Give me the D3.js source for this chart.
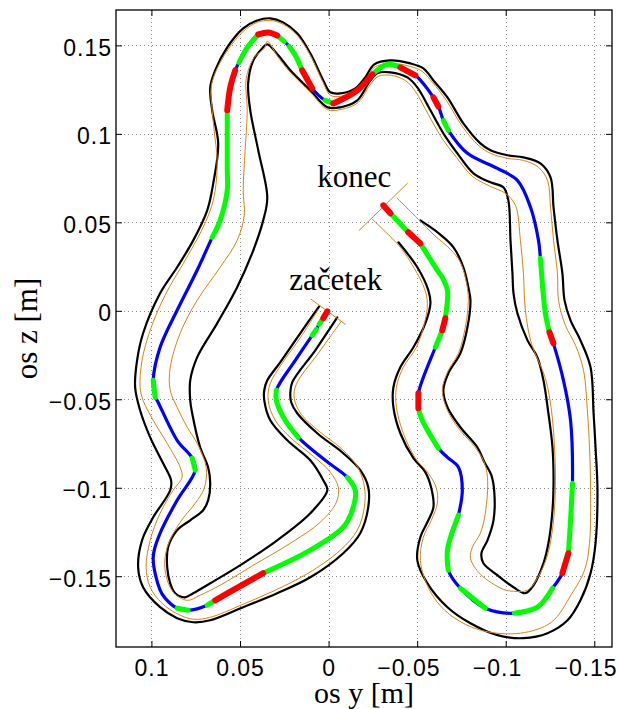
<!DOCTYPE html>
<html><head><meta charset="utf-8">
<script src="https://cdn.jsdelivr.net/npm/d3@7"></script>
<style>html,body{margin:0;padding:0;background:#fff;} svg{display:block;}</style>
</head><body><svg id="c" width="621" height="709"></svg>
<script>
// ---- data (metres): horizontal = os y, vertical = os z ----
const yTicks = [0.1, 0.05, 0, -0.05, -0.1, -0.15];
const yTickLabels = ["0.1", "0.05", "0", "\u22120.05", "\u22120.1", "\u22120.15"];
const zTicks = [0.15, 0.1, 0.05, 0, -0.05, -0.1, -0.15];
const zTickLabels = ["0.15", "0.1", "0.05", "0", "\u22120.05", "\u22120.1", "\u22120.15"];

const centerLine = [
[0.0007,-0.0003],[0.0030,-0.0042],[0.0053,-0.0076],[0.0069,-0.0105],[0.0092,-0.0138],
[0.0188,-0.0280],[0.0295,-0.0449],[0.0295,-0.0506],[0.0245,-0.0619],[0.0171,-0.0715],
[0.0019,-0.0845],[-0.0106,-0.0941],[-0.0151,-0.1014],[-0.0134,-0.1127],[-0.0083,-0.1223],
[0.0103,-0.1353],[0.0369,-0.1483],[0.0499,-0.1556],[0.0640,-0.1636],[0.0685,-0.1664],
[0.0793,-0.1692],[0.0855,-0.1681],[0.0923,-0.1624],[0.0951,-0.1579],[0.0990,-0.1393],
[0.0951,-0.1257],[0.0855,-0.1071],[0.0753,-0.0901],[0.0770,-0.0833],[0.0855,-0.0732],
[0.0968,-0.0506],[0.0979,-0.0489],[0.0990,-0.0393],[0.0951,-0.0206],[0.0855,0.0003],
[0.0742,0.0229],[0.0657,0.0415],[0.0612,0.0511],[0.0572,0.0681],[0.0572,0.0811],
[0.0572,0.1133],[0.0555,0.1263],[0.0527,0.1359],[0.0505,0.1404],[0.0459,0.1489],
[0.0397,0.1562],[0.0341,0.1573],[0.0290,0.1556],[0.0250,0.1523],[0.0222,0.1494],
[0.0188,0.1444],[0.0149,0.1359],[0.0092,0.1257],[0.0019,0.1189],[-0.0027,0.1172],
[-0.0162,0.1246],[-0.0247,0.1336],[-0.0332,0.1393],[-0.0405,0.1376],[-0.0490,0.1331],
[-0.0592,0.1206],[-0.0620,0.1155],[-0.0648,0.1076],[-0.0676,0.1020],[-0.0784,0.0890],
[-0.0953,0.0805],[-0.1066,0.0737],[-0.1140,0.0585],[-0.1185,0.0398],[-0.1196,0.0297],
[-0.1224,-0.0014],[-0.1247,-0.0121],[-0.1269,-0.0184],[-0.1326,-0.0393],[-0.1366,-0.0619],
[-0.1377,-0.0975],[-0.1366,-0.1184],[-0.1354,-0.1370],[-0.1320,-0.1483],[-0.1264,-0.1568],
[-0.1179,-0.1675],[-0.1049,-0.1709],[-0.0885,-0.1681],[-0.0744,-0.1568],[-0.0676,-0.1466],
[-0.0671,-0.1353],[-0.0733,-0.1155],[-0.0755,-0.1014],[-0.0733,-0.0884],[-0.0671,-0.0828],
[-0.0620,-0.0777],[-0.0529,-0.0619],[-0.0507,-0.0551],[-0.0507,-0.0466],[-0.0603,-0.0206],
[-0.0642,-0.0110],[-0.0659,-0.0042],[-0.0671,0.0059],[-0.0671,0.0116],[-0.0642,0.0189],
[-0.0614,0.0229],[-0.0518,0.0381],[-0.0450,0.0444],[-0.0349,0.0551],[-0.0309,0.0596]
];
// state of each piece between consecutive centre points: b = blue, g = green, r = red
const centerState = [
"r","g","b","g","b","b","g","g","g","b",
"b","g","g","g","g","g","r","r","g","b",
"g","b","b","b","b","b","b","g","b","b",
"b","g","b","b","b","b","g","g","g","g",
"r","r","b","g","g","r","r","g","b","g",
"g","r","b","g","r","r","g","g","r","b",
"r","b","g","b","b","b","b","b","b","g",
"g","r","b","b","b","g","g","r","b","g",
"g","b","g","b","g","g","b","b","b","b",
"g","g","r","b","g","r","g","g","g","g",
"g","r","g","r"
];

const wallA = [
[0.0053,0.0025],[0.0160,-0.0127],[0.0273,-0.0291],[0.0346,-0.0393],[0.0363,-0.0449],
[0.0363,-0.0506],[0.0329,-0.0619],[0.0233,-0.0732],[0.0103,-0.0845],[0.0030,-0.0958],
[0.0007,-0.1014],[0.0103,-0.1144],[0.0290,-0.1297],[0.0482,-0.1427],[0.0668,-0.1540],
[0.0764,-0.1596],[0.0810,-0.1619],[0.0866,-0.1596],[0.0894,-0.1540],[0.0911,-0.1449],
[0.0906,-0.1336],[0.0855,-0.1240],[0.0781,-0.1184],[0.0708,-0.1127],[0.0680,-0.1071],
[0.0668,-0.0975],[0.0680,-0.0884],[0.0725,-0.0771],[0.0770,-0.0579],[0.0781,-0.0506],
[0.0781,-0.0393],[0.0742,-0.0263],[0.0629,-0.0071],[0.0516,0.0133],[0.0425,0.0342],
[0.0369,0.0511],[0.0346,0.0641],[0.0397,0.0907],[0.0442,0.1133],[0.0454,0.1285],
[0.0425,0.1415],[0.0375,0.1483],[0.0346,0.1506],[0.0284,0.1444],[0.0216,0.1359],
[0.0103,0.1246],[0.0007,0.1150],[-0.0066,0.1150],[-0.0162,0.1189],[-0.0236,0.1302],
[-0.0275,0.1342],[-0.0349,0.1348],[-0.0445,0.1319],[-0.0501,0.1263],[-0.0575,0.1133],
[-0.0648,0.1003],[-0.0727,0.0890],[-0.0818,0.0777],[-0.0914,0.0726],[-0.0987,0.0698],
[-0.1015,0.0624],[-0.1027,0.0398],[-0.1038,0.0212],[-0.1044,0.0099],[-0.1066,-0.0014],
[-0.1123,-0.0167],[-0.1179,-0.0263],[-0.1213,-0.0393],[-0.1241,-0.0579],[-0.1264,-0.0771],
[-0.1270,-0.0958],[-0.1264,-0.1127],[-0.1241,-0.1314],[-0.1213,-0.1427],[-0.1157,-0.1551],
[-0.1111,-0.1596],[-0.1044,-0.1562],[-0.0953,-0.1494],[-0.0874,-0.1427],[-0.0863,-0.1370],
[-0.0897,-0.1297],[-0.0931,-0.1184],[-0.0936,-0.1031],[-0.0919,-0.0929],[-0.0880,-0.0856],
[-0.0840,-0.0771],[-0.0744,-0.0658],[-0.0671,-0.0545],[-0.0648,-0.0449],[-0.0676,-0.0353],
[-0.0744,-0.0240],[-0.0784,-0.0093],[-0.0801,0.0059],[-0.0789,0.0133],[-0.0761,0.0246],
[-0.0705,0.0359],[-0.0614,0.0444],[-0.0518,0.0511]
];

const wallB = [
[-0.0049,-0.0037],[0.0075,-0.0223],[0.0205,-0.0404],[0.0216,-0.0466],[0.0211,-0.0517],
[0.0177,-0.0579],[0.0064,-0.0692],[-0.0083,-0.0805],[-0.0179,-0.0901],[-0.0224,-0.0997],
[-0.0224,-0.1110],[-0.0179,-0.1257],[-0.0083,-0.1370],[0.0103,-0.1506],[0.0290,-0.1596],
[0.0482,-0.1675],[0.0668,-0.1749],[0.0764,-0.1760],[0.0855,-0.1737],[0.0951,-0.1675],
[0.1047,-0.1562],[0.1075,-0.1449],[0.1053,-0.1297],[0.0990,-0.1167],[0.0894,-0.1014],
[0.0889,-0.0958],[0.0934,-0.0862],[0.1007,-0.0715],[0.1064,-0.0562],[0.1092,-0.0432],
[0.1081,-0.0280],[0.1047,-0.0127],[0.0951,0.0099],[0.0855,0.0246],[0.0764,0.0398],
[0.0685,0.0568],[0.0651,0.0720],[0.0623,0.0946],[0.0657,0.1133],[0.0668,0.1263],
[0.0640,0.1359],[0.0572,0.1489],[0.0482,0.1596],[0.0403,0.1641],[0.0329,0.1653],
[0.0256,0.1630],[0.0177,0.1568],[0.0103,0.1455],[0.0030,0.1302],[-0.0010,0.1235],
[-0.0066,0.1229],[-0.0151,0.1257],[-0.0207,0.1319],[-0.0258,0.1393],[-0.0349,0.1415],
[-0.0462,0.1398],[-0.0535,0.1370],[-0.0592,0.1302],[-0.0671,0.1206],[-0.0761,0.1059],
[-0.0857,0.0946],[-0.0914,0.0907],[-0.1010,0.0879],[-0.1100,0.0867],[-0.1196,0.0833],
[-0.1253,0.0754],[-0.1270,0.0585],[-0.1292,0.0398],[-0.1320,0.0212],[-0.1332,0.0059],
[-0.1366,-0.0054],[-0.1422,-0.0167],[-0.1479,-0.0319],[-0.1496,-0.0579],[-0.1507,-0.0771],
[-0.1518,-0.1014],[-0.1507,-0.1314],[-0.1479,-0.1483],[-0.1422,-0.1636],[-0.1349,-0.1749],
[-0.1236,-0.1822],[-0.1100,-0.1850],[-0.0953,-0.1833],[-0.0801,-0.1766],[-0.0671,-0.1675],
[-0.0558,-0.1540],[-0.0501,-0.1410],[-0.0518,-0.1280],[-0.0563,-0.1184],[-0.0592,-0.1110],
[-0.0580,-0.1003],[-0.0546,-0.0912],[-0.0479,-0.0833],[-0.0405,-0.0692],[-0.0366,-0.0545],
[-0.0366,-0.0432],[-0.0405,-0.0319],[-0.0479,-0.0206],[-0.0546,-0.0071],[-0.0575,0.0042],
[-0.0563,0.0116],[-0.0501,0.0246],[-0.0394,0.0387]
];

const toleranceA = [
[0.0058,0.0008],[0.0154,-0.0144],[0.0262,-0.0297],[0.0329,-0.0410],[0.0341,-0.0506],
[0.0301,-0.0619],[0.0211,-0.0720],[0.0086,-0.0822],[-0.0010,-0.0912],[-0.0055,-0.0997],
[-0.0044,-0.1082],[0.0047,-0.1195],[0.0216,-0.1314],[0.0425,-0.1438],[0.0612,-0.1551],
[0.0725,-0.1607],[0.0798,-0.1636],[0.0877,-0.1590],[0.0923,-0.1466],[0.0911,-0.1336],
[0.0838,-0.1195],[0.0753,-0.1088],[0.0702,-0.1003],[0.0691,-0.0884],[0.0742,-0.0749],
[0.0798,-0.0658],[0.0855,-0.0545],[0.0894,-0.0449],[0.0894,-0.0319],[0.0838,-0.0127],
[0.0742,0.0059],[0.0612,0.0246],[0.0516,0.0398],[0.0476,0.0540],[0.0482,0.0681],
[0.0471,0.0907],[0.0459,0.1133],[0.0465,0.1314],[0.0420,0.1432],[0.0363,0.1483],
[0.0346,0.1523],[0.0284,0.1432],[0.0216,0.1348],[0.0103,0.1235],[0.0007,0.1138],
[-0.0072,0.1138],[-0.0168,0.1178],[-0.0236,0.1280],[-0.0281,0.1325],[-0.0354,0.1331],
[-0.0433,0.1302],[-0.0490,0.1240],[-0.0563,0.1110],[-0.0637,0.0980],[-0.0722,0.0867],
[-0.0812,0.0760],[-0.0914,0.0703],[-0.0998,0.0664],[-0.1055,0.0596],[-0.1083,0.0398],
[-0.1100,0.0212],[-0.1111,0.0003],[-0.1145,-0.0184],[-0.1224,-0.0381],[-0.1258,-0.0562],
[-0.1275,-0.0760],[-0.1281,-0.0958],[-0.1270,-0.1184],[-0.1236,-0.1381],[-0.1179,-0.1511],
[-0.1123,-0.1579],[-0.1044,-0.1585],[-0.0987,-0.1574],[-0.0857,-0.1489],[-0.0801,-0.1398],
[-0.0812,-0.1336],[-0.0857,-0.1257],[-0.0885,-0.1144],[-0.0897,-0.0941],[-0.0874,-0.0845],
[-0.0823,-0.0766],[-0.0738,-0.0670],[-0.0671,-0.0562],[-0.0642,-0.0449],[-0.0671,-0.0347],
[-0.0733,-0.0240],[-0.0772,-0.0093],[-0.0789,0.0059],[-0.0778,0.0161],[-0.0744,0.0274],
[-0.0688,0.0347],[-0.0597,0.0427],[-0.0507,0.0517],[-0.0388,0.0636]
];

const toleranceB = [
[-0.0072,-0.0059],[0.0058,-0.0240],[0.0182,-0.0415],[0.0194,-0.0494],[0.0154,-0.0585],
[0.0053,-0.0681],[-0.0077,-0.0783],[-0.0162,-0.0879],[-0.0202,-0.0992],[-0.0202,-0.1110],
[-0.0162,-0.1240],[-0.0066,-0.1353],[0.0115,-0.1483],[0.0301,-0.1579],[0.0482,-0.1658],
[0.0668,-0.1732],[0.0764,-0.1743],[0.0849,-0.1715],[0.0940,-0.1653],[0.1007,-0.1562],
[0.1030,-0.1449],[0.1007,-0.1297],[0.0951,-0.1144],[0.0877,-0.1014],[0.0827,-0.0941],
[0.0838,-0.0884],[0.0911,-0.0749],[0.0990,-0.0619],[0.1047,-0.0506],[0.1064,-0.0432],
[0.1053,-0.0280],[0.1007,-0.0110],[0.0923,0.0088],[0.0810,0.0285],[0.0725,0.0438],
[0.0668,0.0568],[0.0640,0.0681],[0.0629,0.0850],[0.0646,0.1020],[0.0657,0.1133],
[0.0663,0.1263],[0.0634,0.1359],[0.0567,0.1477],[0.0482,0.1579],[0.0403,0.1630],
[0.0329,0.1641],[0.0256,0.1619],[0.0177,0.1557],[0.0103,0.1444],[0.0036,0.1302],
[-0.0010,0.1218],[-0.0066,0.1212],[-0.0151,0.1240],[-0.0207,0.1302],[-0.0258,0.1376],
[-0.0349,0.1398],[-0.0462,0.1381],[-0.0529,0.1353],[-0.0586,0.1291],[-0.0665,0.1189],
[-0.0755,0.1042],[-0.0846,0.0935],[-0.0914,0.0890],[-0.1010,0.0862],[-0.1100,0.0850],
[-0.1185,0.0811],[-0.1236,0.0737],[-0.1253,0.0585],[-0.1270,0.0398],[-0.1292,0.0212],
[-0.1298,0.0059],[-0.1337,-0.0082],[-0.1394,-0.0195],[-0.1439,-0.0336],[-0.1462,-0.0579],
[-0.1473,-0.0771],[-0.1479,-0.1014],[-0.1473,-0.1314],[-0.1445,-0.1466],[-0.1371,-0.1602],
[-0.1258,-0.1760],[-0.1083,-0.1822],[-0.0857,-0.1805],[-0.0705,-0.1732],[-0.0614,-0.1647],
[-0.0552,-0.1540],[-0.0518,-0.1410],[-0.0535,-0.1280],[-0.0580,-0.1184],[-0.0614,-0.1088],
[-0.0609,-0.1003],[-0.0563,-0.0918],[-0.0490,-0.0833],[-0.0422,-0.0692],[-0.0383,-0.0545],
[-0.0383,-0.0432],[-0.0422,-0.0319],[-0.0496,-0.0206],[-0.0541,-0.0071],[-0.0558,0.0042],
[-0.0541,0.0127],[-0.0484,0.0240],[-0.0405,0.0359],[-0.0247,0.0517]
];

const startCap = [[0.0098,0.0065],[-0.0094,-0.0076]];
const endCap = [[-0.0173,0.0455],[-0.0445,0.0720]];
const annotations = [
  {text: "konec", y: 0.0064, z: 0.0698},
  {text: "za\u010detek", y: 0.0222, z: 0.0116}
];

// ---- drawing ----
const svg = d3.select("#c");
const L = 116, R = 612, T = 10, B = 647;
const x = d3.scaleLinear().domain([0.12, -0.16]).range([L, R]);
const y = d3.scaleLinear().domain([-0.19, 0.17]).range([B, T]);

svg.append("rect").attr("width", 621).attr("height", 709).attr("fill", "#fff");

// grid
const grid = svg.append("g").attr("stroke", "#8a8a8a").attr("stroke-width", 1)
  .attr("stroke-dasharray", "1,3").attr("shape-rendering", "crispEdges");
yTicks.forEach(v => grid.append("line").attr("x1", Math.round(x(v)) + 0.5).attr("x2", Math.round(x(v)) + 0.5).attr("y1", T).attr("y2", B));
zTicks.forEach(v => grid.append("line").attr("y1", Math.round(y(v)) + 0.5).attr("y2", Math.round(y(v)) + 0.5).attr("x1", L).attr("x2", R));

const line = d3.line().x(d => x(d[0])).y(d => y(d[1])).curve(d3.curveCatmullRom.alpha(0.5));

const plot = svg.append("g").attr("fill", "none").attr("stroke-linejoin", "round").attr("stroke-linecap", "round");

// walls (black)
[wallA, wallB].forEach(w => plot.append("path").attr("d", line(w)).attr("stroke", "#000").attr("stroke-width", 2.2));
// tolerance lines (orange)
[toleranceA, toleranceB, startCap, endCap].forEach(w => plot.append("path").attr("d", line(w)).attr("stroke", "#e0800f").attr("stroke-width", 1));

// centre line: blue base, then coloured runs on top
plot.append("path").attr("d", line(centerLine)).attr("stroke", "#0000ff").attr("stroke-width", 3.2);
const runs = [];
let cur = null;
centerState.forEach((s, i) => {
  if (!cur || cur.s !== s) { cur = {s, from: i, to: i + 1}; runs.push(cur); }
  else cur.to = i + 1;
});
const colorOf = {g: "#00ff00", r: "#ff0000"};
const widthOf = {g: 5, r: 6};
["g", "r"].forEach(code => {
  runs.filter(r => r.s === code).forEach(r => {
    plot.append("path").attr("d", line(centerLine.slice(r.from, r.to + 1)))
      .attr("stroke", colorOf[code]).attr("stroke-width", widthOf[code]);
  });
});

// annotations
annotations.forEach(a => svg.append("text").attr("x", x(a.y)).attr("y", y(a.z))
  .attr("font-family", "'Liberation Serif','Times New Roman',serif").attr("font-size", 31)
  .attr("fill", "#000").text(a.text));

// axes
const tickFont = "'Liberation Sans',Arial,Helvetica,sans-serif";
function styleAxis(g) {
  g.select(".domain").remove();
  g.selectAll(".tick line").attr("stroke", "#000").attr("stroke-width", 1);
  g.selectAll(".tick text").attr("font-family", tickFont).attr("font-size", 23).attr("fill", "#000");
}
const ax = svg.append("g").attr("transform", `translate(0,${B})`)
  .call(d3.axisBottom(x).tickValues(yTicks).tickFormat((d, i) => yTickLabels[i]).tickSizeInner(-6).tickSizeOuter(0).tickPadding(13))
  .call(styleAxis);
// the number is centred under its tick, the minus sign hangs to the left
ax.selectAll(".tick text").attr("dx", d => d < 0 ? "-0.38em" : "0");
svg.append("g").attr("transform", `translate(0,${T})`)
  .call(d3.axisTop(x).tickValues(yTicks).tickFormat("").tickSizeInner(-6).tickSizeOuter(0))
  .call(styleAxis);
const ay = svg.append("g").attr("transform", `translate(${L},0)`)
  .call(d3.axisLeft(y).tickValues(zTicks).tickFormat((d, i) => zTickLabels[i]).tickSizeInner(-6).tickSizeOuter(0).tickPadding(4))
  .call(styleAxis);
ay.selectAll(".tick text").attr("dy", "0.44em");
svg.append("g").attr("transform", `translate(${R},0)`)
  .call(d3.axisRight(y).tickValues(zTicks).tickFormat("").tickSizeInner(-6).tickSizeOuter(0))
  .call(styleAxis);
d3.selectAll(".tick text").attr("letter-spacing", "1px");

svg.append("rect").attr("x", L).attr("y", T).attr("width", R - L).attr("height", B - T)
  .attr("fill", "none").attr("stroke", "#000").attr("stroke-width", 1.3);

// axis labels
svg.append("text").attr("x", (L + R) / 2).attr("y", 703).attr("text-anchor", "middle")
  .attr("font-family", "'Liberation Serif','Times New Roman',serif").attr("font-size", 30).text("os y [m]");
svg.append("text").attr("transform", `translate(37,${(T + B) / 2}) rotate(-90)`).attr("text-anchor", "middle")
  .attr("font-family", "'Liberation Serif','Times New Roman',serif").attr("font-size", 31).text("os z [m]");
</script>
</body></html>
